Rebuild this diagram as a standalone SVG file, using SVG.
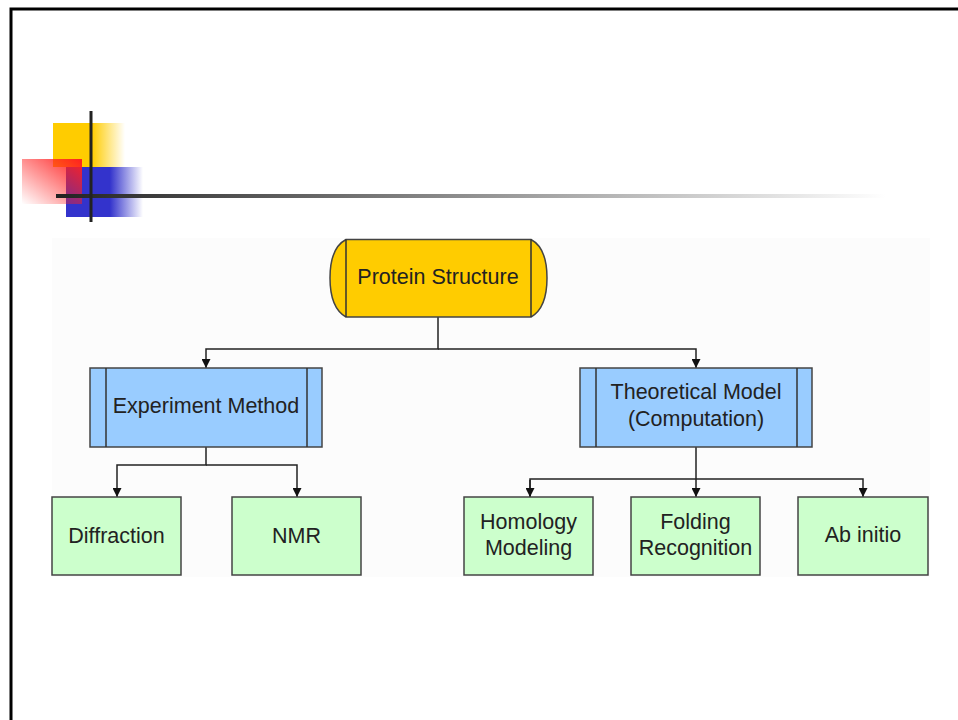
<svg xmlns="http://www.w3.org/2000/svg" width="958" height="720" viewBox="0 0 958 720">
<defs>
<linearGradient id="gy" x1="0" y1="0" x2="1" y2="0">
<stop offset="0" stop-color="#FFCC00"/><stop offset="0.54" stop-color="#FFCC00"/><stop offset="1" stop-color="#FFCC00" stop-opacity="0"/>
</linearGradient>
<linearGradient id="gb" x1="0" y1="0" x2="1" y2="0">
<stop offset="0" stop-color="#3333CC"/><stop offset="0.57" stop-color="#3333CC"/><stop offset="1" stop-color="#3333CC" stop-opacity="0"/>
</linearGradient>
<linearGradient id="gr" x1="1" y1="0" x2="0" y2="1">
<stop offset="0" stop-color="#FF2020"/><stop offset="1" stop-color="#FF2020" stop-opacity="0"/>
</linearGradient>
<linearGradient id="gl" x1="0" y1="0" x2="1" y2="0">
<stop offset="0" stop-color="#222"/><stop offset="1" stop-color="#fff"/>
</linearGradient>
<marker id="ah" viewBox="0 0 10 10" refX="10" refY="5" markerWidth="9" markerHeight="9" markerUnits="userSpaceOnUse" orient="auto">
<path d="M0,0 L10,5 L0,10 Z" fill="#111"/>
</marker>
</defs>
<style>
.t{font-family:"Liberation Sans",Arial,sans-serif;font-size:21.5px;fill:#222;text-anchor:middle}
.blue{fill:#99CCFF;stroke:#444;stroke-width:1.5}
.green{fill:#CCFFCC;stroke:#444;stroke-width:1.5}
.inner{stroke:#333;stroke-width:1.5;fill:none}
.c{fill:none;stroke:#222;stroke-width:1.5}
</style>
<rect x="0" y="0" width="958" height="720" fill="#fff"/>
<path d="M11,720 V9 H958" fill="none" stroke="#000" stroke-width="3"/>
<rect x="52" y="238" width="878" height="339" fill="#fcfcfc"/>
<g id="decoration">
<rect x="53" y="123" width="72" height="44" fill="url(#gy)"/>
<rect x="66" y="167" width="77" height="50" fill="url(#gb)"/>
<rect x="22" y="159" width="60" height="45" fill="url(#gr)"/>
<rect x="56" y="194" width="830" height="4" fill="url(#gl)"/>
<rect x="89.5" y="111" width="3" height="111" fill="#222"/>
</g>
<g id="connectors">
<path class="c" d="M438,317 V349 H206 V368" marker-end="url(#ah)"/>
<path class="c" d="M438,349 H696 V368" marker-end="url(#ah)"/>
<path class="c" d="M206,447 V465 H117 V497" marker-end="url(#ah)"/>
<path class="c" d="M206,465 H297 V497" marker-end="url(#ah)"/>
<path class="c" d="M696,447 V497" marker-end="url(#ah)"/>
<path class="c" d="M530,497 V479 H863 V497" marker-end="url(#ah)"/>
<path class="c" d="M530,480 V497" marker-end="url(#ah)"/>
</g>
<g id="protein-structure">
<path d="M346,239.5 H531 Q547,248 547,278 Q547,308 531,317 H346 Q330,308 330,278 Q330,248 346,239.5 Z" fill="#FFCC00" stroke="#444" stroke-width="1.5"/>
<path class="inner" d="M346,239.5 V317 M531,239.5 V317"/>
<text class="t" x="438" y="284">Protein Structure</text>
</g>
<g id="experiment-method">
<rect class="blue" x="90" y="368" width="232" height="79"/>
<path class="inner" d="M106,368 V447 M307,368 V447"/>
<text class="t" x="206" y="413">Experiment Method</text>
</g>
<g id="theoretical-model">
<rect class="blue" x="580" y="368" width="232" height="79"/>
<path class="inner" d="M596,368 V447 M797,368 V447"/>
<text class="t" x="696" y="399">Theoretical Model</text>
<text class="t" x="696" y="426">(Computation)</text>
</g>
<g id="diffraction">
<rect class="green" x="52" y="497" width="129" height="78"/>
<text class="t" x="116.5" y="543">Diffraction</text>
</g>
<g id="nmr">
<rect class="green" x="232" y="497" width="129" height="78"/>
<text class="t" x="296.5" y="543">NMR</text>
</g>
<g id="homology-modeling">
<rect class="green" x="464" y="497" width="129" height="78"/>
<text class="t" x="528.5" y="529">Homology</text>
<text class="t" x="528.5" y="555">Modeling</text>
</g>
<g id="folding-recognition">
<rect class="green" x="631" y="497" width="129" height="78"/>
<text class="t" x="695.5" y="529">Folding</text>
<text class="t" x="695.5" y="555">Recognition</text>
</g>
<g id="ab-initio">
<rect class="green" x="798" y="497" width="130" height="78"/>
<text class="t" x="863" y="542">Ab initio</text>
</g>
</svg>
